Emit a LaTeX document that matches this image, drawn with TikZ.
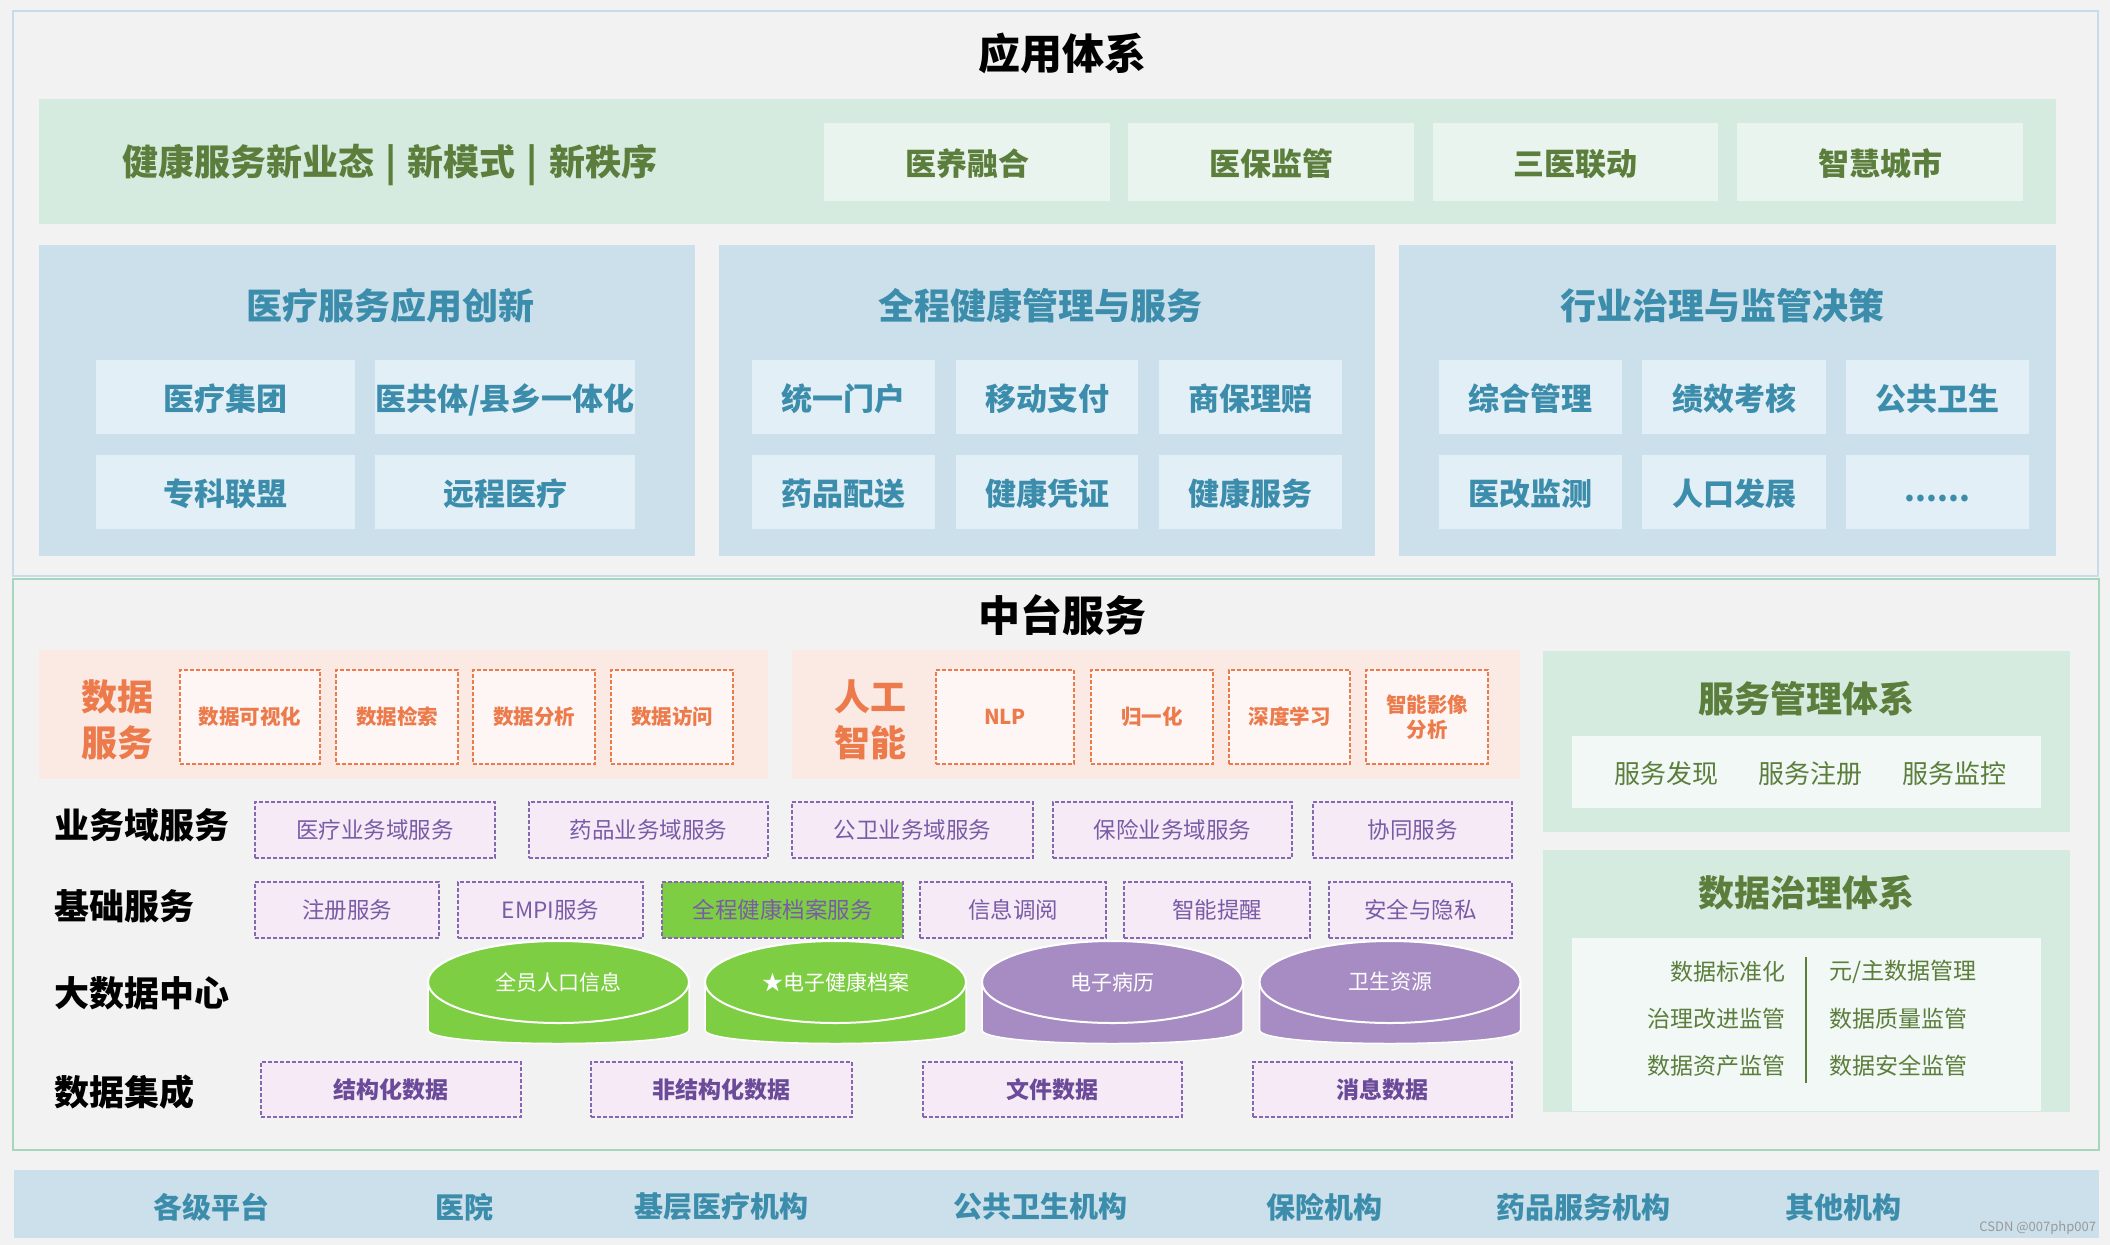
\documentclass[tikz,border=0pt]{standalone}
\usepackage{fontspec}
\setmainfont{Noto Sans CJK SC}
\definecolor{cbg}{HTML}{F2F2F2}
\definecolor{ctopline}{HTML}{C5DDEB}
\definecolor{cmidline}{HTML}{A8D5BD}
\definecolor{cmint}{HTML}{D6EBDF}
\definecolor{cmintitem}{HTML}{EAF4EE}
\definecolor{cdgreen}{HTML}{5B7E3C}
\definecolor{cbluepanel}{HTML}{CBE0EA}
\definecolor{cblueitem}{HTML}{E3EFF6}
\definecolor{cteal}{HTML}{3C8DAB}
\definecolor{cpinkband}{HTML}{FBEAE4}
\definecolor{cpinkbox}{HTML}{FDF6F4}
\definecolor{corange}{HTML}{EC7A4B}
\definecolor{cpurplebox}{HTML}{F5EAF5}
\definecolor{cpurpleline}{HTML}{8767B3}
\definecolor{cpurpletext}{HTML}{7A5BA8}
\definecolor{cpurplebold}{HTML}{6A4A99}
\definecolor{clgreen}{HTML}{7DCE43}
\definecolor{ccylpurple}{HTML}{A78CC4}
\definecolor{cgovwhite}{HTML}{F2F8F5}
\newcommand\mkbox[7]{\node[#2,minimum width={#5-#3},minimum height={#6-#4}] (#1) at ({(#3+#5)/2},{(#4+#6)/2}) {#7};}
\newcommand\mkcyl[4]{%
  \fill[#3,draw=white,line width=1.5pt] (#2-130.5,982) -- (#2-130.5,1030) .. controls (#2-130.5,1048) and (#2+130.5,1048) .. (#2+130.5,1030) -- (#2+130.5,982) -- cycle;
  \fill[#3,draw=white,line width=2pt] (#2,982) ellipse [x radius=130.5,y radius=41];
  \node[cyltext] (#1) at (#2,982) {#4};}
\tikzset{
  base/.style={inner sep=0pt,outer sep=0pt,align=center},
  bigtitle/.style={base,font=\fontsize{42}{46}\selectfont\bfseries},
  topframe/.style={base,draw=ctopline,line width=2pt},
  midframe/.style={base,draw=cmidline,line width=2pt},
  bandbox/.style={base,fill=cmint},
  bandtext/.style={base,text=cdgreen,font=\fontsize{36}{40}\selectfont\bfseries},
  banditem/.style={base,fill=cmintitem,text=cdgreen,font=\fontsize{31}{34}\selectfont\bfseries,text depth=-4pt},
  panelbox/.style={base,fill=cbluepanel},
  paneltitle/.style={base,text=cteal,font=\fontsize{36}{40}\selectfont\bfseries},
  panelitem/.style={base,fill=cblueitem,text=cteal,font=\fontsize{31}{34}\selectfont\bfseries,text depth=-3pt},
  pinkbandbox/.style={base,fill=cpinkband},
  pinklabel/.style={base,text=corange,font=\fontsize{36}{46}\selectfont\bfseries},
  pinkitem/.style={base,fill=cpinkbox,draw=corange,dash pattern=on 4pt off 2pt,line width=1.3pt,text=corange,font=\fontsize{20.5}{25}\selectfont\bfseries},
  rowlabel/.style={base,anchor=west,font=\fontsize{35}{40}\selectfont\bfseries},
  pitem/.style={base,fill=cpurplebox,draw=cpurpleline,dash pattern=on 4pt off 2pt,line width=1.3pt,text=cpurpletext,font=\fontsize{22.5}{26}\selectfont},
  gitem/.style={pitem,fill=clgreen},
  ditem/.style={pitem,text=cpurplebold,font=\fontsize{23}{26}\selectfont\bfseries},
  cyltext/.style={base,text=white,font=\fontsize{21}{24}\selectfont},
  mgmtbox/.style={base,fill=cmint},
  mgmttitle/.style={base,text=cdgreen,font=\fontsize{36}{40}\selectfont\bfseries},
  mgmtinner/.style={base,fill=cgovwhite},
  mgmtitem/.style={base,text=cdgreen,font=\fontsize{26}{30}\selectfont},
  govitem/.style={base,text=cdgreen,font=\fontsize{23}{27}\selectfont},
  footband/.style={base,fill=cbluepanel},
  footitem/.style={base,text=cteal,font=\fontsize{29}{32}\selectfont\bfseries},
}
\begin{document}
\begin{tikzpicture}[x=1pt,y=-1pt]
\useasboundingbox (0,0) rectangle (2110,1245);
\fill[cbg] (0,0) rectangle (2110,1245);
% ---------- top: application system ----------
\mkbox{topfr}{topframe}{13}{11}{2098}{576}{}
\node[bigtitle] (apptitle) at (1062,53) {应用体系};
\mkbox{band}{bandbox}{39}{99}{2056}{224}{}
\node[bandtext] (bandtxt) at (390,165) {健康服务新业态\hspace{11pt}|\hspace{11pt}新模式\hspace{11pt}|\hspace{11pt}新秩序};
\mkbox{b1}{banditem}{824}{123}{1110}{201}{医养融合}
\mkbox{b2}{banditem}{1128}{123}{1414}{201}{医保监管}
\mkbox{b3}{banditem}{1433}{123}{1718}{201}{三医联动}
\mkbox{b4}{banditem}{1737}{123}{2023}{201}{智慧城市}
% panels
\mkbox{p1}{panelbox}{39}{245}{695}{556}{}
\mkbox{p2}{panelbox}{719}{245}{1375}{556}{}
\mkbox{p3}{panelbox}{1399}{245}{2056}{556}{}
\node[paneltitle] (p1t) at (390,306) {医疗服务应用创新};
\node[paneltitle] (p2t) at (1040,306) {全程健康管理与服务};
\node[paneltitle] (p3t) at (1722,306) {行业治理与监管决策};
\mkbox{p1a}{panelitem}{96}{360}{355}{434}{医疗集团}
\mkbox{p1b}{panelitem}{375}{360}{635}{434}{医共体/县乡一体化}
\mkbox{p1c}{panelitem}{96}{455}{355}{529}{专科联盟}
\mkbox{p1d}{panelitem}{375}{455}{635}{529}{远程医疗}
\mkbox{p2a}{panelitem}{752}{360}{935}{434}{统一门户}
\mkbox{p2b}{panelitem}{956}{360}{1138}{434}{移动支付}
\mkbox{p2c}{panelitem}{1159}{360}{1342}{434}{商保理赔}
\mkbox{p2d}{panelitem}{752}{455}{935}{529}{药品配送}
\mkbox{p2e}{panelitem}{956}{455}{1138}{529}{健康凭证}
\mkbox{p2f}{panelitem}{1159}{455}{1342}{529}{健康服务}
\mkbox{p3a}{panelitem}{1439}{360}{1622}{434}{综合管理}
\mkbox{p3b}{panelitem}{1642}{360}{1826}{434}{绩效考核}
\mkbox{p3c}{panelitem}{1846}{360}{2029}{434}{公共卫生}
\mkbox{p3d}{panelitem}{1439}{455}{1622}{529}{医改监测}
\mkbox{p3e}{panelitem}{1642}{455}{1826}{529}{人口发展}
\mkbox{p3f}{panelitem}{1846}{455}{2029}{529}{\raisebox{-9pt}{......}}
% ---------- middle: platform services ----------
\mkbox{midfr}{midframe}{13}{579}{2099}{1150}{}
\node[bigtitle] (midtitle) at (1062,615) {中台服务};
\mkbox{ds}{pinkbandbox}{39}{650}{768}{779}{}
\node[pinklabel] (dslbl) at (117,720) {数据\\服务};
\mkbox{ds1}{pinkitem}{180}{670}{320}{764}{数据可视化}
\mkbox{ds2}{pinkitem}{336}{670}{458}{764}{数据检索}
\mkbox{ds3}{pinkitem}{473}{670}{595}{764}{数据分析}
\mkbox{ds4}{pinkitem}{611}{670}{733}{764}{数据访问}
\mkbox{ai}{pinkbandbox}{792}{650}{1520}{779}{}
\node[pinklabel] (ailbl) at (870,720) {人工\\智能};
\mkbox{ai1}{pinkitem}{936}{670}{1074}{764}{NLP}
\mkbox{ai2}{pinkitem}{1091}{670}{1213}{764}{归一化}
\mkbox{ai3}{pinkitem}{1229}{670}{1350}{764}{深度学习}
\mkbox{ai4}{pinkitem}{1366}{670}{1488}{764}{智能影像\\分析}
% business domain services
\node[rowlabel] (r1) at (54,825) {业务域服务};
\mkbox{bd1}{pitem}{255}{802}{495}{858}{医疗业务域服务}
\mkbox{bd2}{pitem}{529}{802}{768}{858}{药品业务域服务}
\mkbox{bd3}{pitem}{792}{802}{1033}{858}{公卫业务域服务}
\mkbox{bd4}{pitem}{1053}{802}{1292}{858}{保险业务域服务}
\mkbox{bd5}{pitem}{1313}{802}{1512}{858}{协同服务}
% basic services
\node[rowlabel] (r2) at (54,906) {基础服务};
\mkbox{bs1}{pitem}{255}{882}{439}{938}{注册服务}
\mkbox{bs2}{pitem}{458}{882}{643}{938}{EMPI服务}
\mkbox{bs3}{gitem}{662}{882}{903}{938}{全程健康档案服务}
\mkbox{bs4}{pitem}{920}{882}{1106}{938}{信息调阅}
\mkbox{bs5}{pitem}{1124}{882}{1310}{938}{智能提醒}
\mkbox{bs6}{pitem}{1329}{882}{1512}{938}{安全与隐私}
% big data center
\node[rowlabel] (r3) at (54,993) {大数据中心};
\mkcyl{cy1}{558.5}{clgreen}{全员人口信息}
\mkcyl{cy2}{835.5}{clgreen}{★电子健康档案}
\mkcyl{cy3}{1112.5}{ccylpurple}{电子病历}
\mkcyl{cy4}{1390}{ccylpurple}{卫生资源}
% data integration
\node[rowlabel] (r4) at (54,1092) {数据集成};
\mkbox{di1}{ditem}{261}{1062}{521}{1117}{结构化数据}
\mkbox{di2}{ditem}{591}{1062}{852}{1117}{非结构化数据}
\mkbox{di3}{ditem}{923}{1062}{1182}{1117}{文件数据}
\mkbox{di4}{ditem}{1253}{1062}{1512}{1117}{消息数据}
% service management system
\mkbox{sm}{mgmtbox}{1543}{651}{2070}{832}{}
\node[mgmttitle] (smt) at (1806,699) {服务管理体系};
\mkbox{smi}{mgmtinner}{1572}{736}{2041}{808}{}
\node[mgmtitem] (sm1) at (1666,774) {服务发现};
\node[mgmtitem] (sm2) at (1810,774) {服务注册};
\node[mgmtitem] (sm3) at (1954,774) {服务监控};
% data governance system
\mkbox{dg}{mgmtbox}{1543}{850}{2070}{1112}{}
\node[mgmttitle] (dgt) at (1806,893) {数据治理体系};
\mkbox{dgi}{mgmtinner}{1572}{938}{2041}{1111}{}
\coordinate (dv1) at (1806,957);
\coordinate (dv2) at (1806,1083);
\draw[cdgreen,line width=2pt] (dv1) -- (dv2);
\node[govitem,anchor=east] (g1) at (1785,972) {数据标准化};
\node[govitem,anchor=east] (g2) at (1785,1019) {治理改进监管};
\node[govitem,anchor=east] (g3) at (1785,1066) {数据资产监管};
\node[govitem,anchor=west] (g4) at (1829,972) {元/主数据管理};
\node[govitem,anchor=west] (g5) at (1829,1019) {数据质量监管};
\node[govitem,anchor=west] (g6) at (1829,1066) {数据安全监管};
% ---------- bottom band ----------
\mkbox{foot}{footband}{14}{1170}{2099}{1238}{}
\node[footitem] (f1) at (211,1207) {各级平台};
\node[footitem] (f2) at (464,1207) {医院};
\node[footitem] (f3) at (721,1207) {基层医疗机构};
\node[footitem] (f4) at (1040,1207) {公共卫生机构};
\node[footitem] (f5) at (1324,1207) {保险机构};
\node[footitem] (f6) at (1583,1207) {药品服务机构};
\node[footitem] (f7) at (1843,1207) {其他机构};
\node[base,anchor=east,text=gray!80,font=\fontsize{13}{15}\selectfont] (wm) at (2096,1228) {CSDN @007php007};
\end{tikzpicture}
\end{document}
